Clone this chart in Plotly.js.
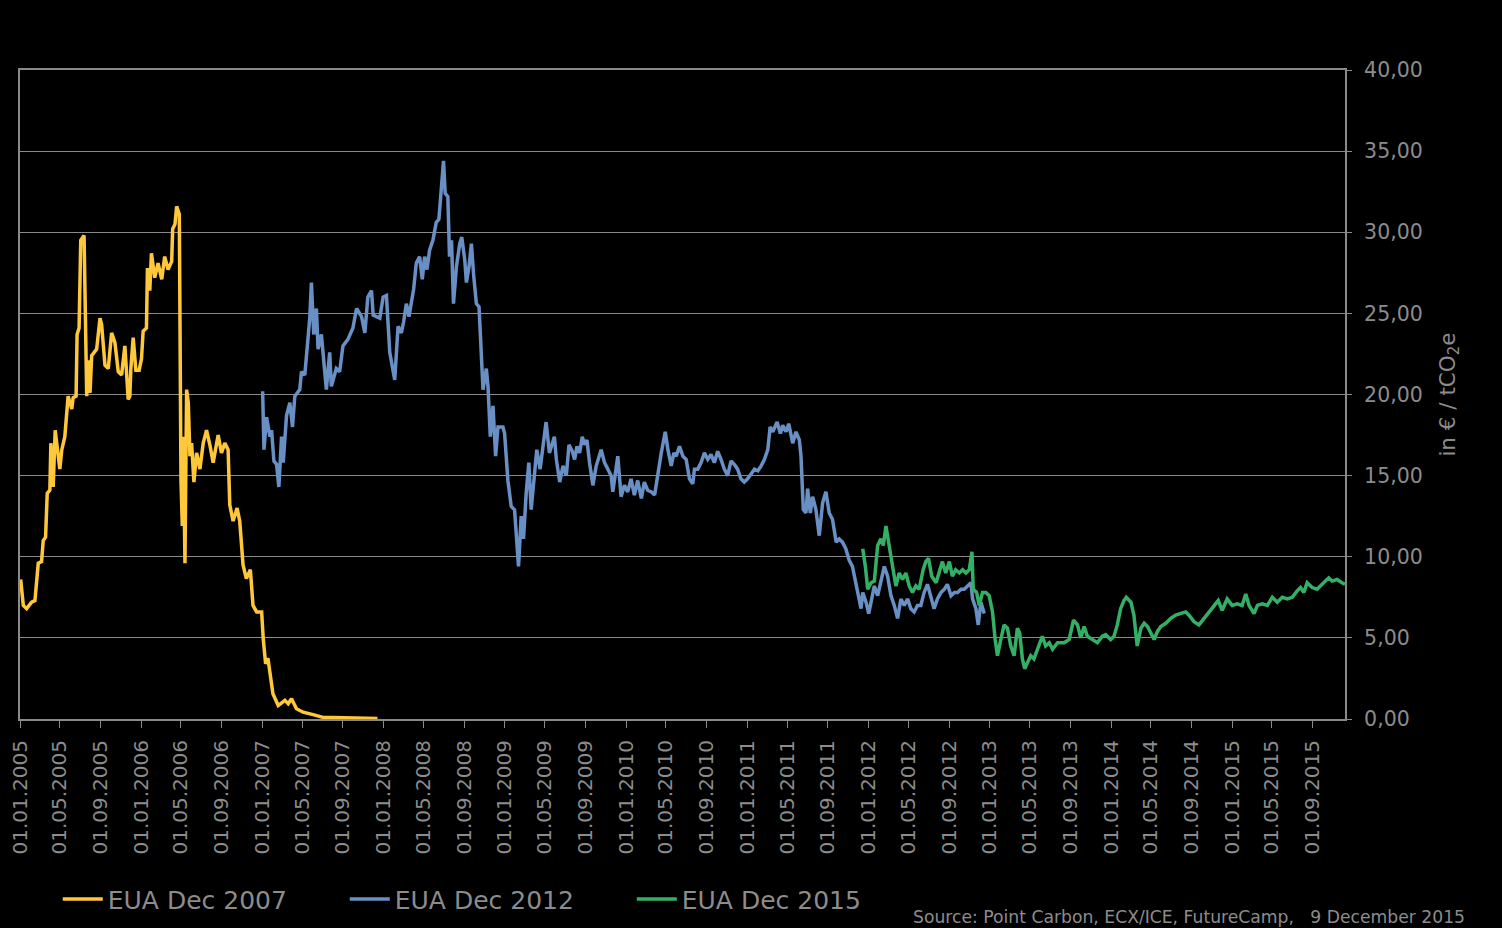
<!DOCTYPE html>
<html>
<head>
<meta charset="utf-8">
<script src="https://cdn.plot.ly/plotly-3.0.1.min.js"></script>
<style>
  html, body { margin: 0; padding: 0; background: #000; }
  #chart { width: 1502px; height: 928px; }
</style>
</head>
<body>
<div id="chart"></div>
<script>
// ---------- DATA ----------
const dec2007Dates = [
  "2005-01-03","2005-01-11","2005-01-21","2005-02-05","2005-02-15","2005-02-25","2005-03-07","2005-03-12","2005-03-19","2005-03-24",
  "2005-04-01","2005-04-04","2005-04-11","2005-04-17","2005-05-01","2005-05-07","2005-05-16","2005-05-22","2005-05-26","2005-06-06",
  "2005-06-10","2005-06-19","2005-06-22","2005-06-28","2005-07-03","2005-07-13","2005-07-17","2005-07-21","2005-07-26","2005-07-31",
  "2005-08-05","2005-08-20","2005-08-30","2005-09-04","2005-09-14","2005-09-24","2005-10-04","2005-10-14","2005-10-24","2005-11-03",
  "2005-11-13","2005-11-23","2005-11-28","2005-12-01","2005-12-08","2005-12-16","2005-12-26","2006-01-02","2006-01-07","2006-01-17",
  "2006-01-20","2006-01-27","2006-02-01","2006-02-11","2006-02-21","2006-03-04","2006-03-13","2006-03-23","2006-04-03","2006-04-06",
  "2006-04-13","2006-04-18","2006-04-26","2006-04-28","2006-05-01","2006-05-05","2006-05-08","2006-05-13","2006-05-18","2006-05-23",
  "2006-05-28","2006-06-02","2006-06-09","2006-06-17","2006-06-27","2006-07-07","2006-07-17","2006-07-27","2006-08-06","2006-08-21",
  "2006-08-31","2006-09-10","2006-09-20","2006-09-25","2006-10-05","2006-10-17","2006-10-25","2006-11-04","2006-11-14","2006-11-26",
  "2006-12-04","2006-12-15","2006-12-30","2007-01-04","2007-01-11","2007-01-18","2007-02-02","2007-02-18","2007-03-10","2007-03-20",
  "2007-03-30","2007-04-14","2007-05-04","2007-06-03","2007-07-03","2007-08-02","2007-09-21","2007-11-11","2007-12-14"
];
const dec2007Values = [
  8.6,7.0,6.8,7.2,7.3,9.6,9.7,11.0,11.2,13.9,
  14.1,17.0,14.3,17.8,15.4,16.6,17.4,18.7,19.9,19.1,
  19.8,19.9,23.7,24.1,29.5,29.8,24.7,19.9,22.1,20.1,
  22.4,22.8,24.7,24.3,21.8,21.6,23.8,23.2,21.4,21.2,
  23.0,19.7,19.9,21.6,23.5,21.5,21.5,22.2,23.9,24.1,
  27.8,26.4,28.7,27.2,28.1,27.1,28.5,27.7,28.2,30.2,
  30.5,31.6,31.1,23.7,14.7,11.9,17.4,9.6,20.3,19.5,
  16.2,17.0,14.6,16.4,15.4,17.0,17.8,16.9,15.8,17.5,
  16.4,17.0,16.6,13.2,12.2,13.0,12.2,9.5,8.65,9.2,
  7.0,6.6,6.6,4.9,3.4,3.75,1.56,0.83,1.15,0.94,
  1.25,0.63,0.42,0.27,0.10,0.10,0.06,0.06,0.03
];

const dec2012Dates = [
  "2007-01-02","2007-01-06","2007-01-14","2007-01-24","2007-01-29","2007-02-05","2007-02-13","2007-02-20","2007-02-28","2007-03-05",
  "2007-03-15","2007-03-25","2007-04-02","2007-04-09","2007-04-24","2007-04-29","2007-05-09","2007-05-19","2007-05-24","2007-05-29",
  "2007-06-05","2007-06-13","2007-06-18","2007-06-28","2007-07-05","2007-07-13","2007-07-23","2007-07-28","2007-08-12","2007-08-22",
  "2007-09-01","2007-09-16","2007-10-01","2007-10-12","2007-10-27","2007-11-06","2007-11-15","2007-11-26","2007-12-01","2007-12-21",
  "2007-12-31","2008-01-10","2008-01-20","2008-02-04","2008-02-14","2008-02-24","2008-03-02","2008-03-10","2008-03-18","2008-03-25",
  "2008-04-01","2008-04-09","2008-04-19","2008-04-27","2008-05-04","2008-05-11","2008-05-19","2008-05-29","2008-06-08","2008-06-16",
  "2008-06-23","2008-06-30","2008-07-05","2008-07-13","2008-07-18","2008-07-24","2008-07-30","2008-08-08","2008-08-18","2008-08-24",
  "2008-09-02","2008-09-07","2008-09-15","2008-09-22","2008-09-29","2008-10-07","2008-10-15","2008-10-22","2008-10-27","2008-11-06",
  "2008-11-11","2008-11-18","2008-11-26","2008-12-04","2008-12-11","2008-12-26","2008-12-31","2009-01-10","2009-01-20","2009-01-30",
  "2009-02-04","2009-02-11","2009-02-19","2009-02-26","2009-03-06","2009-03-14","2009-03-21","2009-03-28","2009-04-07","2009-04-17",
  "2009-04-25","2009-05-05","2009-05-15","2009-05-30","2009-06-05","2009-06-15","2009-06-25","2009-07-05","2009-07-13","2009-07-23",
  "2009-07-30","2009-08-06","2009-08-14","2009-08-22","2009-08-29","2009-09-05","2009-09-13","2009-09-23","2009-10-03","2009-10-18",
  "2009-10-28","2009-11-07","2009-11-17","2009-11-22","2009-11-30","2009-12-07","2009-12-17","2009-12-27","2010-01-06","2010-01-16",
  "2010-01-26","2010-02-05","2010-02-16","2010-02-25","2010-03-07","2010-03-18","2010-03-28","2010-04-06","2010-04-17","2010-04-29",
  "2010-05-07","2010-05-17","2010-05-25","2010-06-01","2010-06-11","2010-06-21","2010-07-01","2010-07-11","2010-07-21","2010-07-26",
  "2010-08-05","2010-08-15","2010-08-25","2010-09-04","2010-09-14","2010-09-24","2010-10-04","2010-10-14","2010-10-24","2010-11-03",
  "2010-11-13","2010-11-23","2010-12-03","2010-12-13","2010-12-23","2011-01-02","2011-01-13","2011-01-23","2011-02-02","2011-02-12",
  "2011-02-22","2011-03-04","2011-03-11","2011-03-19","2011-04-01","2011-04-11","2011-04-18","2011-04-28","2011-05-06","2011-05-18",
  "2011-05-28","2011-06-07","2011-06-12","2011-06-19","2011-06-27","2011-07-02","2011-07-10","2011-07-17","2011-07-27","2011-08-06",
  "2011-08-16","2011-08-26","2011-09-05","2011-09-15","2011-09-26","2011-10-05","2011-10-15","2011-10-25","2011-11-04","2011-11-14",
  "2011-11-25","2011-12-04","2011-12-10","2011-12-15","2011-12-25","2012-01-02","2012-01-09","2012-01-19","2012-01-29","2012-02-08",
  "2012-02-18","2012-02-28","2012-03-09","2012-03-19","2012-03-29","2012-04-08","2012-04-18","2012-04-28","2012-05-08","2012-05-18",
  "2012-05-28","2012-06-07","2012-06-17","2012-06-27","2012-07-07","2012-07-17","2012-07-27","2012-08-07","2012-08-17","2012-08-26",
  "2012-09-06","2012-09-16","2012-09-26","2012-10-06","2012-10-16","2012-10-26","2012-11-05","2012-11-10","2012-11-20","2012-11-27",
  "2012-12-05","2012-12-15"
];
const dec2012Values = [
  20.2,16.6,18.6,17.4,17.8,15.9,15.7,14.3,17.4,15.8,
  18.7,19.5,18.0,19.9,20.3,21.4,21.2,23.7,24.7,26.9,
  23.7,25.3,22.8,23.7,22.2,20.3,22.6,20.5,21.6,21.4,
  23.0,23.4,24.1,25.3,24.8,23.8,26.0,26.4,24.9,24.7,
  26.0,26.1,22.6,20.9,24.2,23.8,24.5,25.6,24.8,25.6,
  26.5,28.1,28.5,27.1,28.5,27.7,28.9,29.5,30.6,30.8,
  32.4,34.4,32.4,32.2,28.5,29.5,25.6,27.9,29.3,29.7,
  28.3,26.9,27.9,29.3,27.3,25.6,25.4,22.6,20.3,21.6,
  20.5,17.4,19.3,16.2,18.0,18.0,17.6,14.7,13.1,12.9,
  11.5,9.4,12.5,11.1,13.9,15.8,12.9,14.7,16.6,15.4,
  16.8,18.3,16.4,17.4,16.0,14.6,15.6,15.0,16.9,16.5,
  16.0,16.8,16.4,17.4,16.9,17.2,15.8,14.4,15.6,16.6,
  15.8,15.4,15.0,14.0,15.2,16.2,13.7,14.4,14.0,14.8,
  13.8,14.7,13.6,14.6,14.1,14.0,13.8,15.0,16.4,17.7,
  16.6,15.6,16.4,16.2,16.8,16.2,16.0,14.8,14.5,15.4,
  15.4,15.8,16.4,16.0,16.3,15.8,16.5,16.0,15.4,15.0,
  15.9,15.7,15.4,14.8,14.6,14.8,15.1,15.4,15.3,15.6,
  16.0,16.6,18.0,17.7,18.3,17.6,18.1,17.7,18.2,17.0,
  17.7,17.2,16.2,12.9,12.7,14.2,12.7,13.7,12.9,11.3,
  13.3,14.0,12.7,12.3,10.9,11.1,10.9,10.5,9.8,9.4,
  8.3,7.4,6.8,7.8,7.2,6.5,7.2,8.2,7.6,8.6,
  9.4,8.8,7.6,7.0,6.2,7.4,7.0,7.4,6.8,6.6,
  7.0,7.0,7.8,8.3,7.6,6.8,7.4,7.8,8.0,8.3,
  7.6,7.8,7.8,8.0,8.0,8.2,8.4,7.4,6.8,5.8,
  7.2,6.5
];

const dec2015Dates = [
  "2011-12-15","2011-12-23","2011-12-30","2012-01-09","2012-01-19","2012-01-29","2012-02-08","2012-02-15","2012-02-23","2012-03-04",
  "2012-03-14","2012-03-24","2012-04-03","2012-04-13","2012-04-23","2012-05-03","2012-05-13","2012-05-23","2012-06-02","2012-06-14",
  "2012-06-22","2012-06-30","2012-07-10","2012-07-23","2012-08-01","2012-08-11","2012-08-21","2012-09-01","2012-09-10","2012-09-20",
  "2012-10-01","2012-10-11","2012-10-21","2012-10-31","2012-11-08","2012-11-12","2012-11-22","2012-11-30","2012-12-10","2012-12-20",
  "2012-12-30","2013-01-09","2013-01-17","2013-01-24","2013-02-03","2013-02-13","2013-02-23","2013-03-05","2013-03-15","2013-03-25",
  "2013-04-01","2013-04-09","2013-04-16","2013-04-24","2013-05-04","2013-05-14","2013-05-24","2013-06-08","2013-06-18","2013-06-29",
  "2013-07-09","2013-07-24","2013-08-13","2013-08-28","2013-09-10","2013-09-22","2013-10-02","2013-10-12","2013-10-22","2013-11-06",
  "2013-11-21","2013-12-06","2013-12-16","2013-12-31","2014-01-10","2014-01-20","2014-01-30","2014-02-09","2014-02-16","2014-03-02",
  "2014-03-11","2014-03-21","2014-04-01","2014-04-11","2014-04-21","2014-05-01","2014-05-11","2014-05-21","2014-05-31","2014-06-15",
  "2014-06-30","2014-07-15","2014-07-30","2014-08-14","2014-08-24","2014-09-08","2014-09-23","2014-10-08","2014-10-23","2014-11-07",
  "2014-11-20","2014-12-02","2014-12-17","2015-01-01","2015-01-16","2015-01-31","2015-02-11","2015-02-21","2015-03-08","2015-03-18",
  "2015-04-02","2015-04-17","2015-05-02","2015-05-17","2015-06-01","2015-06-16","2015-07-01","2015-07-16","2015-07-26","2015-08-05",
  "2015-08-15","2015-08-30","2015-09-14","2015-09-29","2015-10-19","2015-10-29","2015-11-13","2015-11-28","2015-12-07"
];
const dec2015Values = [
  10.5,9.4,8.0,8.4,8.5,10.7,11.1,10.7,11.9,10.5,
  9.4,8.2,9.0,8.6,9.0,8.2,7.8,8.2,8.0,9.2,
  9.7,9.9,8.8,8.4,9.0,9.7,9.0,9.7,8.8,9.2,
  9.0,9.2,9.0,9.2,10.3,8.0,7.8,7.0,7.8,7.8,
  7.6,6.6,4.9,3.9,4.9,5.8,5.6,4.5,3.9,5.6,
  5.3,3.7,3.1,3.5,3.9,3.7,4.3,5.1,4.5,4.7,
  4.3,4.7,4.7,4.9,6.1,5.8,5.0,5.7,5.1,4.9,
  4.7,5.1,5.2,4.9,5.1,5.8,6.8,7.3,7.5,7.2,
  6.4,4.5,5.6,5.9,5.7,5.3,4.9,5.4,5.7,5.9,
  6.2,6.4,6.5,6.6,6.4,6.0,5.8,6.2,6.6,7.0,
  7.3,6.7,7.4,7.0,7.1,7.0,7.7,7.0,6.5,7.0,
  7.1,7.0,7.5,7.2,7.5,7.4,7.5,7.9,8.1,7.8,
  8.4,8.1,8.0,8.3,8.7,8.5,8.6,8.4,8.3
];

const seriesNames = ["EUA Dec 2007", "EUA Dec 2012", "EUA Dec 2015"];
const sourceText = "Source: Point Carbon, ECX/ICE, FutureCamp,\u00a0\u00a0 9 December 2015";
const yTitle = "in € / tCO<sub>2</sub>e";

// ---------- STYLE ----------
const grey = "#8a8a8a";
const textGrey = "#8c8c8c";
const font = "DejaVu Sans, Verdana, sans-serif";

const traces = [
  { x: dec2007Dates, y: dec2007Values, name: seriesNames[0], type: "scatter", mode: "lines",
    line: { color: "#FFC83A", width: 3.5 } },
  { x: dec2012Dates, y: dec2012Values, name: seriesNames[1], type: "scatter", mode: "lines",
    line: { color: "#6990C4", width: 3.5 } },
  { x: dec2015Dates, y: dec2015Values, name: seriesNames[2], type: "scatter", mode: "lines",
    line: { color: "#33B066", width: 3.5 } }
];

const layout = {
  width: 1502, height: 928,
  paper_bgcolor: "#000", plot_bgcolor: "#000",
  margin: { l: 20, r: 157, t: 70, b: 209, pad: 0, autoexpand: false },
  separators: ", ",
  font: { family: font, color: textGrey, size: 20 },
  showlegend: true,
  legend: {
    orientation: "h", x: 0.0285, xanchor: "left",
    yref: "container", y: 0.031, yanchor: "middle",
    font: { size: 25, color: textGrey, family: font },
    bgcolor: "rgba(0,0,0,0)", entrywidth: 232, entrywidthmode: "pixels",
    itemwidth: 40, tracegroupgap: 0
  },
  xaxis: {
    type: "date",
    range: ["2005-01-01", "2015-12-07"],
    tick0: "2005-01-01", dtick: "M4",
    tickformat: "%d.%m.%Y",
    tickangle: -90,
    tickfont: { size: 20, color: textGrey, family: font },
    ticks: "outside", ticklen: 7, tickcolor: grey, tickwidth: 1,
    showgrid: false, zeroline: false,
    showline: true, linecolor: grey, linewidth: 2, mirror: true,
    ticklabelstandoff: 4
  },
  yaxis: {
    side: "right",
    range: [0, 40], dtick: 5, tick0: 0,
    tickformat: ".2f",
    tickfont: { size: 20.5, color: textGrey, family: font },
    ticks: "outside", ticklen: 5, tickcolor: grey,
    ticklabelstandoff: 8,
    showgrid: true, gridcolor: grey, gridwidth: 1,
    zeroline: false,
    showline: true, linecolor: grey, linewidth: 2, mirror: true,
    title: { text: yTitle, font: { size: 21.5, color: textGrey, family: font }, standoff: 18 }
  },
  annotations: [
    { text: sourceText, xref: "paper", yref: "paper", x: 1.092, y: -0.305,
      xanchor: "right", yanchor: "middle", showarrow: false,
      font: { size: 17.2, color: textGrey, family: font } }
  ]
};

Plotly.newPlot("chart", traces, layout, { displayModeBar: false, staticPlot: true });
</script>
</body>
</html>
